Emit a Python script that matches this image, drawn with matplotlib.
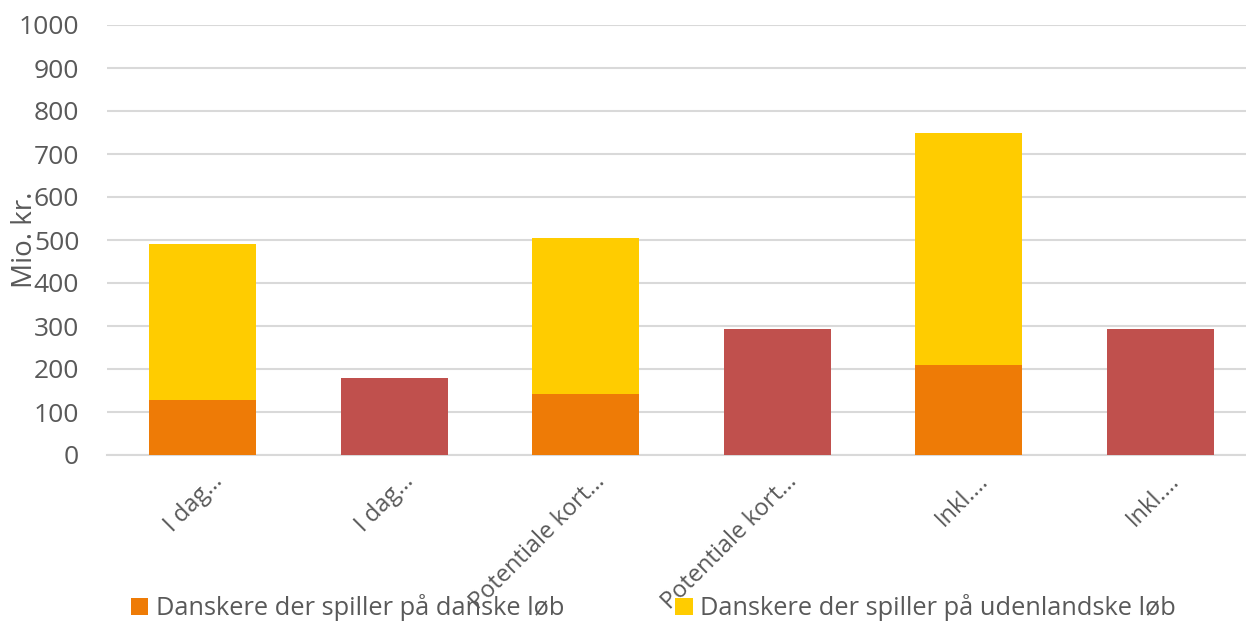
import matplotlib
matplotlib.use("Agg")
import matplotlib.pyplot as plt
import matplotlib.transforms as mtransforms
import numpy as np

plt.rcParams["font.family"] = ["Open Sans", "DejaVu Sans"]

categories = ["I dag…", "I dag…", "Potentiale kort…", "Potentiale kort…", "Inkl.…", "Inkl.…"]
danske = [128, 0, 142, 0, 210, 0]
udenlandske = [363, 0, 363, 0, 539, 0]
oevrige = [0, 180, 0, 294, 0, 294]

c_orange = "#EE7B06"
c_yellow = "#FFCC00"
c_red = "#C0504D"
txt = "#595959"
grid = "#D9D9D9"

W, H = 1246, 621
fig = plt.figure(figsize=(W / 100, H / 100), dpi=100)
ax = fig.add_axes([107 / W, 166 / H, (1256 - 107) / W, 430 / H])

x = np.arange(len(categories))
bw = 0.56
ax.bar(x, danske, bw, color=c_orange, label="Danskere der spiller på danske løb", zorder=3)
ax.bar(x, udenlandske, bw, bottom=danske, color=c_yellow,
       label="Danskere der spiller på udenlandske løb", zorder=3)
ax.bar(x, oevrige, bw, color=c_red, zorder=3)

ax.set_xlim(-0.5, len(categories) - 0.5)
ax.set_ylim(0, 1000)
ax.set_yticks(np.arange(0, 1001, 100))
ax.yaxis.grid(True, color=grid, linewidth=1.5, zorder=0)
for s in ["top", "right", "left"]:
    ax.spines[s].set_visible(False)
ax.spines["bottom"].set_color(grid)
ax.spines["bottom"].set_linewidth(1.5)
ax.tick_params(axis="y", length=0, colors=txt, labelsize=19, pad=20)
ax.tick_params(axis="x", length=0, colors=txt, labelsize=17)

ax.set_xticks(x)
ax.set_xticklabels(categories, rotation=45, ha="right", rotation_mode="anchor", va="center")
offset = mtransforms.ScaledTranslation(16 / 100, -18 / 100, fig.dpi_scale_trans)
for lbl in ax.get_xticklabels():
    lbl.set_transform(lbl.get_transform() + offset)

ax.set_ylabel("Mio. kr.", color=txt, fontsize=20)
ax.yaxis.set_label_coords(-0.059, 0.50)

fig.legend(loc="lower left", bbox_to_anchor=(128 / W, -3 / H), ncol=2, frameon=False,
           fontsize=18.3, labelcolor=txt, handlelength=0.7, handleheight=0.7,
           handletextpad=0.3, columnspacing=4.35, borderpad=0.1, borderaxespad=0)

fig.savefig("out.png", dpi=100)
